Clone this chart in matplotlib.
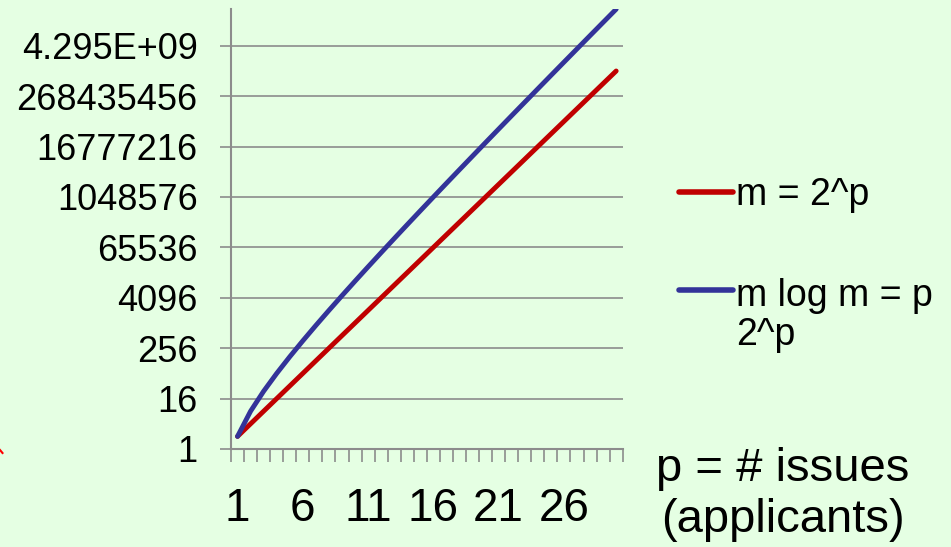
import matplotlib
matplotlib.use("Agg")
import matplotlib.pyplot as plt
from matplotlib.lines import Line2D

plt.rcParams['font.family'] = ['Liberation Sans', 'DejaVu Sans']

p_values = list(range(1, 31))
red_values = [2, 4, 8, 16, 32, 64, 128, 256, 512, 1024, 2048, 4096, 8192, 16384,
              32768, 65536, 131072, 262144, 524288, 1048576, 2097152, 4194304,
              8388608, 16777216, 33554432, 67108864, 134217728, 268435456,
              536870912, 1073741824]
blue_values = [2, 8, 24, 64, 160, 384, 896, 2048, 4608, 10240, 22528, 49152,
               106496, 229376, 491520, 1048576, 2228224, 4718592, 9961472,
               20971520, 44040192, 92274688, 192937984, 402653184, 838860800,
               1744830464, 3623878656, 7516192768, 15569256448, 32212254720]
y_ticks = [1, 16, 256, 4096, 65536, 1048576, 16777216, 268435456, 4294967296]
y_tick_labels = ["1", "16", "256", "4096", "65536", "1048576", "16777216",
                 "268435456", "4.295E+09"]
x_label_positions = [1, 6, 11, 16, 21, 26]
x_tick_labels = ["1", "6", "11", "16", "21", "26"]
red_label = "m = 2^p"
blue_label = "m log m = p\n2^p"
axis_title = "p = # issues\n(applicants)"

W, H = 951, 547
bg = '#E5FFE3'
grid_c = '#8C8C8C'

fig = plt.figure(figsize=(W / 100, H / 100), dpi=100, facecolor=bg)
ax = fig.add_axes([231 / W, 1 - 449 / H, (622.7 - 231) / W, (449 - 9) / H])
ax.set_facecolor(bg)

ax.plot(p_values, red_values, color='#C00000', lw=3.5, solid_capstyle='round',
        label=red_label, zorder=3)
ax.plot(p_values, blue_values, color='#333399', lw=3.5, solid_capstyle='round',
        label=blue_label, zorder=3)

ax.set_yscale('log', base=2)
ax.set_ylim(1, 2 ** 34.92)
ax.set_xlim(0.5, 30.5)

ax.set_yticks(y_ticks)
ax.set_yticklabels(y_tick_labels)
ax.yaxis.set_minor_locator(matplotlib.ticker.NullLocator())
ax.tick_params(axis='y', which='major', direction='out', length=8, width=1.2,
               color=grid_c, labelsize=26, pad=16)
ax.grid(axis='y', color=grid_c, lw=1.2, zorder=1)

ax.set_xticks([i + 0.5 for i in range(0, 31)])
ax.set_xticklabels([])
ax.set_xticks(x_label_positions, minor=True)
ax.set_xticklabels(x_tick_labels, minor=True)
ax.tick_params(axis='x', which='major', direction='out', length=9.5, width=1.2,
               color=grid_c)
ax.tick_params(axis='x', which='minor', length=0, labelsize=33, pad=27.5)

for s in ['top', 'right']:
    ax.spines[s].set_visible(False)
for s in ['left', 'bottom']:
    ax.spines[s].set_color(grid_c)
    ax.spines[s].set_linewidth(1.5)


def fx(x):
    return x / W


def fy(y):
    return 1 - y / H


# legend drawn in figure pixel coordinates: (line y, last-line baseline y)
for y_px, base_px, color, label in [(192, 205, '#C00000', red_label),
                                    (290, 345, '#333399', blue_label)]:
    fig.add_artist(Line2D([fx(679), fx(733)], [fy(y_px), fy(y_px)], color=color,
                          lw=4, solid_capstyle='round', transform=fig.transFigure))
    fig.text(fx(736), fy(base_px), label, ha='left', va='baseline',
             fontsize=27, linespacing=1.09)

fig.text(fx(783), fy(532), axis_title, ha='center', va='baseline',
         fontsize=34, linespacing=1.2)

fig.add_artist(Line2D([0 / W, 2.5 / W], [1 - 450 / H, 1 - 453 / H],
                      color='#FF0000', lw=1.5, transform=fig.transFigure))

fig.savefig('out.png', dpi=100, facecolor=bg)
